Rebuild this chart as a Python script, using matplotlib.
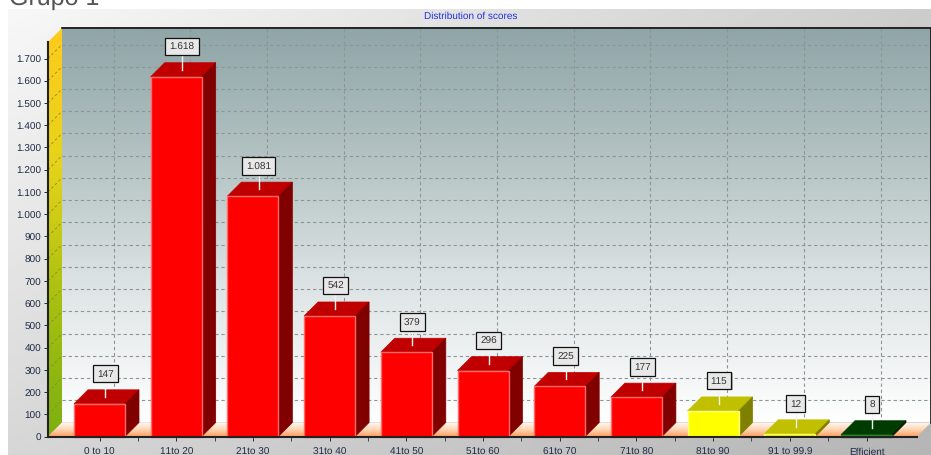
import numpy as np
import matplotlib
matplotlib.use("Agg")
import matplotlib.pyplot as plt
from matplotlib.colors import LinearSegmentedColormap as LSC
from matplotlib.patches import Polygon

plt.rcParams['font.family'] = ['Liberation Sans', 'DejaVu Sans']
plt.rcParams['text.hinting'] = 'no_hinting'
plt.rcParams['text.hinting_factor'] = 1

categories = ["0 to 10", "11to 20", "21to 30", "31to 40", "41to 50", "51to 60",
              "61to 70", "71to 80", "81to 90", "91 to 99.9", "Efficient"]
values = [147, 1618, 1081, 542, 379, 296, 225, 177, 115, 12, 8]
value_labels = ["147", "1.618", "1.081", "542", "379", "296", "225", "177", "115", "12", "8"]
yticks = list(range(0, 1800, 100))
ytick_labels = ["0", "100", "200", "300", "400", "500", "600", "700", "800", "900",
                "1.000", "1.100", "1.200", "1.300", "1.400", "1.500", "1.600", "1.700"]
front_colors = ["#ff0000"] * 8 + ["#ffff00", "#e8e820", "#0a6a0a"]
top_colors = ["#c00000"] * 8 + ["#c0c000", "#c0c000", "#003c00"]
side_colors = ["#800000"] * 8 + ["#808000", "#808000", "#001800"]
edge_colors = ["#ff6a6a"] * 8 + ["#ffff80", "#ffff60", "#2a8a2a"]

W, H = 931, 456
fig = plt.figure(figsize=(W / 100, H / 100), dpi=100, facecolor="white")

# outer panel gradient
bg = fig.add_axes([8 / W, 0, 1 - 8 / W, (H - 10) / H])
bg.axis("off")
u, v = np.meshgrid(np.linspace(0, 1, 200), np.linspace(0, 1, 200))
tl, tr, bl, br = 0.97, 0.80, 0.84, 0.71
bg.imshow((1 - v) * ((1 - u) * tl + u * tr) + v * ((1 - u) * bl + u * br),
          cmap="gray", vmin=0, vmax=1, aspect="auto", extent=(0, 1, 0, 1), zorder=0)

# main axes: front plane
x0, x1, y0, y1 = 48, 917, 437.5, 59.5
ax = fig.add_axes([x0 / W, (H - y0) / H, (x1 - x0) / W, (y0 - y1) / H])
ax.patch.set_alpha(0)
step = 76.7
ax.set_xlim((x0 - 99.5) / step, (x1 - 99.5) / step)
ax.set_ylim(0, 1700)
xmin, xmax = ax.get_xlim()
per_px = 1700 / (y0 - y1)
dx, dy = 14 / step, 14 * per_px
ytop = (y0 - 29) * per_px
bw = 51 / step

ramp = np.linspace(0, 1, 256)[:, None]
# back wall
wall = LSC.from_list("w", ["#8fa5a7", "#b4c3c3", "#dfe5e6", "#ffffff"])
ax.imshow(ramp, cmap=wall, aspect="auto", zorder=1, clip_on=False,
          extent=(xmin + dx, xmax + dx, dy, ytop))
# left wall
lw = LSC.from_list("l", ["#ffcb1c", "#e6d31a", "#a8c010", "#7cb010"])
im = ax.imshow(ramp, cmap=lw, aspect="auto", zorder=1,
               extent=(xmin, xmin + dx, 0, ytop))
poly = Polygon([(xmin, 0), (xmin + dx, dy), (xmin + dx, ytop), (xmin, ytop - dy)],
               transform=ax.transData, fc="none", ec="none", clip_on=False)
ax.add_patch(poly)
im.set_clip_box(fig.bbox)
im.set_clip_path(poly)
# floor
fl = LSC.from_list("f", ["#fffaf5", "#ffd8b8", "#ffa468"])
im = ax.imshow(ramp, cmap=fl, aspect="auto", zorder=1,
               extent=(xmin, xmax + dx, 0, dy))
poly = Polygon([(xmin, 0), (xmin + dx, dy), (xmax + dx, dy), (xmax, 0)],
               transform=ax.transData, fc="none", ec="none", clip_on=False)
ax.add_patch(poly)
im.set_clip_box(fig.bbox)
im.set_clip_path(poly)
ax.set_xlim(xmin, xmax)
ax.set_ylim(0, 1700)

# grid on the walls
grid = dict(color="#8f9597", lw=0.8, ls=(0, (3, 2.5)), zorder=2, clip_on=False)
for t in yticks[1:]:
    ax.plot([xmin + dx, xmax + dx], [t + dy, t + dy], **grid)
    ax.plot([xmin, xmin + dx], [t, t + dy], color="#8a8a30", lw=0.6, ls=(0, (3, 3)), zorder=2, clip_on=False)
for i in range(len(categories)):
    ax.plot([i + dx, i + dx], [dy, ytop], **grid)

# wall borders
ax.plot([xmin + dx, xmax + dx, xmax + dx], [ytop, ytop, dy], color="#111111", lw=1.2, zorder=2, clip_on=False)

# bars
positions = np.arange(len(categories))
for i, val in enumerate(values):
    l, r = i - bw / 2, i + bw / 2
    ax.add_patch(Polygon([(l, val), (r, val), (r + dx, val + dy), (l + dx, val + dy)],
                         fc=top_colors[i], ec=top_colors[i], lw=0.5, zorder=3, clip_on=False))
    ax.add_patch(Polygon([(r, 0), (r + dx, dy), (r + dx, val + dy), (r, val)],
                         fc=side_colors[i], ec=side_colors[i], lw=0.5, zorder=3, clip_on=False))
ax.bar(positions, values, width=bw, color=front_colors, edgecolor=edge_colors,
       linewidth=1.0, zorder=4, clip_on=False)

# value labels
for i, (val, lab) in enumerate(zip(values, value_labels)):
    cx = i + dx / 2 - 0.015
    ax.plot([cx, cx], [val + dy / 2, val + 95], color="#f4f4f4", lw=1.0, zorder=5, clip_on=False)
    ax.text(cx + 0.015, val + 132, lab, ha="center", va="center", fontsize=7, color="#0000", zorder=5,
            bbox=dict(boxstyle="square,pad=0.42", fc="#777777", ec="none", alpha=0.55), clip_on=False)
    ax.text(cx, val + 136, lab, ha="center", va="center", fontsize=7, color="#333333", zorder=6,
            bbox=dict(boxstyle="square,pad=0.42", fc="#e8e8e8", ec="#111111", lw=0.9), clip_on=False)

# axes
for s in ["top", "right"]:
    ax.spines[s].set_visible(False)
for s in ["left", "bottom"]:
    ax.spines[s].set_color("#222222")
    ax.spines[s].set_linewidth(1.5)
    ax.spines[s].set_zorder(5)
ax.spines["left"].set_bounds(0, ytop - dy)
ax.set_yticks(yticks)
ax.set_yticklabels(ytick_labels)
ax.set_xticks(positions)
ax.set_xticklabels(categories)
ax.set_xticks(positions[:-1] + 0.5, minor=True)
ax.tick_params(axis="y", length=3, width=0.7, pad=2, labelsize=7, colors="#1f2a44")
ax.tick_params(axis="x", length=3, width=0.7, pad=4, labelsize=6.9, colors="#1f2a44")
ax.tick_params(axis="x", which="minor", length=3, width=0.7, color="#444444")

fig.text(471 / W, 1 - 16 / H, "Distribution of scores", ha="center", va="center",
         fontsize=7.3, color="#2030e0")
fig.text(9 / W, 1 - 5 / H, "Grupo 1", ha="left", va="baseline", fontsize=18, color="#555555")

fig.savefig("out.png", dpi=100)
